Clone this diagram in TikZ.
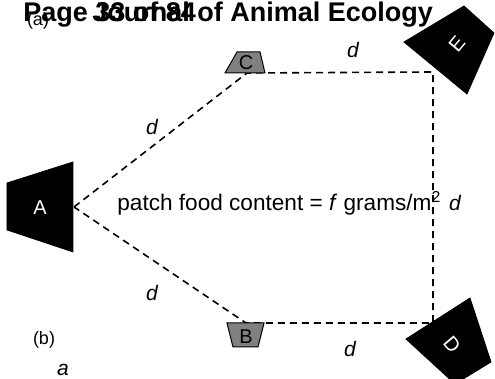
\documentclass[tikz,border=0pt]{standalone}
\usepackage{fontspec}
\setmainfont{Liberation Sans}
\begin{document}
\begin{tikzpicture}[x=0.5pt, y=-0.5pt]
        \tikzset{
            trail/.style={dash pattern=on 3.5pt off 2.5pt, line width=0.8pt},
            patch/.style={fill=black, draw=black},
            smallpatch/.style={fill=gray, draw=black, line width=0.5pt},
            lbl/.style={font=\fontsize{10}{12}\selectfont},
            dist/.style={font=\fontsize{10.5}{12}\selectfont\itshape}
        }
        \useasboundingbox (0,0) rectangle (495,379);
        \clip (0,0) rectangle (495,379);

        % Tiêu đề chồng lên nhau
        \node[anchor=base west, inner sep=0, font=\fontsize{13.5}{16}\selectfont\bfseries] (pg) at (23,22) {Page 33 of 84};
        \node[anchor=base west, inner sep=0, font=\fontsize{13.5}{16}\selectfont\bfseries] (jn) at (92,22) {Journal of Animal Ecology};
        \node[font=\fontsize{9}{11}\selectfont] (la) at (38,21) {(a)};

        % Các điểm nối
        \coordinate (pa) at (74,207);
        \coordinate (pc) at (247,73);
        \coordinate (pe) at (433,72);
        \coordinate (pd) at (433,323);
        \coordinate (pb) at (246,323);
        \draw[trail] (pa) -- (pc) -- (pe) -- (pd) -- (pb) -- cycle;

        % Các mảnh
        \draw[patch] (7,183) -- (73,162) -- (73,252) -- (7,230) -- cycle;
        \node[lbl, text=white] (A) at (40,208) {A};
        \draw[patch] (404,42) -- (464,6) -- (494,33) -- (467,94) -- cycle;
        \node[lbl, text=white, rotate=50] (E) at (457,44) {E};
        \draw[patch] (406,339) -- (470,298) -- (491,362) -- (455,384) -- cycle;
        \node[lbl, text=white, rotate=-50] (D) at (452,345) {D};
        \draw[smallpatch] (237,52) -- (260,52) -- (265,73) -- (225,73) -- cycle;
        \node[lbl] (C) at (246,63) {C};
        \draw[smallpatch] (227,323) -- (264,323) -- (258,347) -- (233,347) -- cycle;
        \node[lbl] (B) at (246,337) {B};

        % Khoảng cách d
        \node[dist] (d1) at (152,127) {d};
        \node[dist] (d2) at (353,50) {d};
        \node[dist] (d3) at (455,203) {d};
        \node[dist] (d4) at (152,293) {d};
        \node[dist] (d5) at (350,349) {d};

        % Nội dung
        \node[anchor=west, inner sep=0, font=\fontsize{11.3}{13}\selectfont] (food) at (117,203) {patch food content = \textit{f} grams/m\textsuperscript{2}};
        \node[font=\fontsize{9}{11}\selectfont] (lb) at (44,340) {(b)};
        \node[dist] (la2) at (63,370) {a};
    \end{tikzpicture}
\end{document}
